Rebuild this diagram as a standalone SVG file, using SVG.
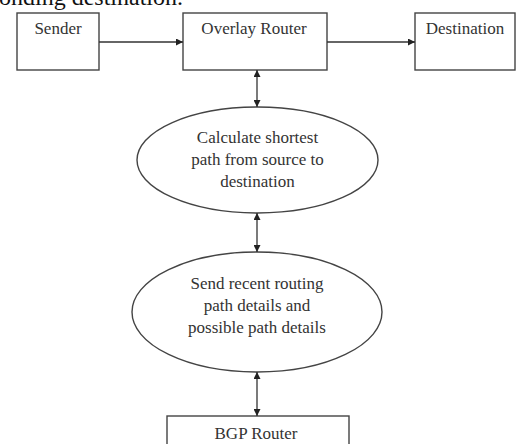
<svg xmlns="http://www.w3.org/2000/svg" width="518" height="444" viewBox="0 0 518 444">
<defs>
<style>
.box{fill:#fff;stroke:#444;stroke-width:1.4}
.lbl{font-family:"Liberation Serif","Times New Roman",serif;font-size:17px;fill:#333;text-anchor:middle}
.edge{stroke:#333;stroke-width:1.3;fill:none}
.top{font-family:"Liberation Serif","Times New Roman",serif;font-size:24px;fill:#111}
</style>
<marker id="ah" viewBox="0 0 10 10" refX="10" refY="5" markerWidth="7" markerHeight="7" markerUnits="userSpaceOnUse" orient="auto-start-reverse">
<path d="M0,0 L10,5 L0,10 z" fill="#222"/>
</marker>
</defs>
<rect width="518" height="444" fill="#fff"/>
<text class="top" x="-1" y="5">onding destination.</text>
<g id="sender"><rect class="box" x="17" y="13" width="82" height="57"/><text class="lbl" x="58" y="34">Sender</text></g>
<g id="overlay"><rect class="box" x="183" y="13" width="144" height="57"/><text class="lbl" x="254" y="34">Overlay Router</text></g>
<g id="destination"><rect class="box" x="415" y="13" width="100" height="57"/><text class="lbl" x="465" y="34">Destination</text></g>
<g id="calc"><ellipse class="box" cx="257.5" cy="160" rx="120.5" ry="53"/>
<text class="lbl" x="257.5" y="143">Calculate shortest</text>
<text class="lbl" x="257.5" y="165">path from source to</text>
<text class="lbl" x="257.5" y="187">destination</text></g>
<g id="send"><ellipse class="box" cx="257" cy="312" rx="125" ry="60"/>
<text class="lbl" x="257" y="289">Send recent routing</text>
<text class="lbl" x="257" y="311">path details and</text>
<text class="lbl" x="257" y="333">possible path details</text></g>
<g id="bgp"><rect class="box" x="167" y="416" width="182" height="40"/><text class="lbl" x="256" y="439">BGP Router</text></g>
<g id="connectors">
<line class="edge" x1="99" y1="42" x2="183" y2="42" marker-end="url(#ah)"/>
<line class="edge" x1="327" y1="42" x2="415" y2="42" marker-end="url(#ah)"/>
<line class="edge" x1="257" y1="70" x2="257" y2="107" marker-start="url(#ah)" marker-end="url(#ah)"/>
<line class="edge" x1="257" y1="213" x2="257" y2="252" marker-start="url(#ah)" marker-end="url(#ah)"/>
<line class="edge" x1="257" y1="372" x2="257" y2="416" marker-start="url(#ah)" marker-end="url(#ah)"/>
</g>
</svg>
